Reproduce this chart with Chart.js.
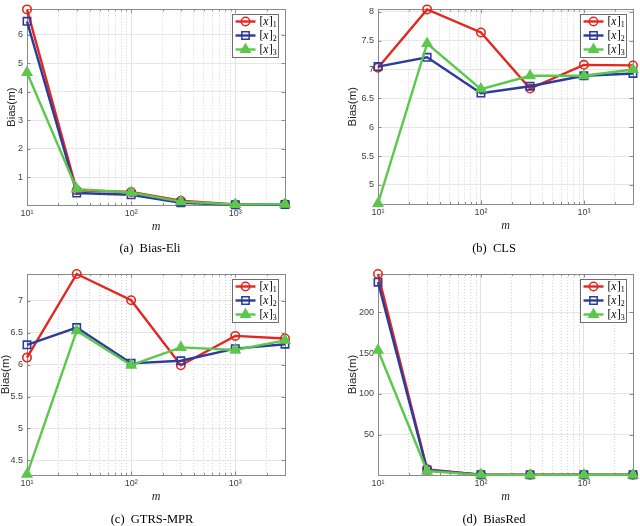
<!DOCTYPE html>
<html>
<head>
<meta charset="utf-8">
<script src="https://cdn.jsdelivr.net/npm/chart.js@4.4.0/dist/chart.umd.min.js"></script>
<style>
  body { margin: 0; background: #fff; width: 640px; height: 526px; position: relative; overflow: hidden; }
  .panel { position: absolute; width: 320px; height: 263px; }
  .cap { position: absolute; font-family: "Liberation Serif", serif; font-size: 12.5px; color: #000;
         white-space: nowrap; transform: translate(-50%, -50%); }
</style>
</head>
<body>
<div class="panel" style="left:0;top:0"><canvas id="chartA" width="320" height="263"></canvas></div>
<div class="panel" style="left:320px;top:0"><canvas id="chartB" width="320" height="263"></canvas></div>
<div class="panel" style="left:0;top:263px"><canvas id="chartC" width="320" height="263"></canvas></div>
<div class="panel" style="left:320px;top:263px"><canvas id="chartD" width="320" height="263"></canvas></div>

<div class="cap" style="left:150px;top:248px">(a)&nbsp; Bias-Eli</div>
<div class="cap" style="left:494px;top:248px">(b)&nbsp; CLS</div>
<div class="cap" style="left:152px;top:519px">(c)&nbsp; GTRS-MPR</div>
<div class="cap" style="left:494px;top:519px">(d)&nbsp; BiasRed</div>

<script>
// sample sizes m (x axis)
const mValues = [10, 30, 100, 300, 1000, 3000];
const xTickValues = [10, 20, 30, 40, 50, 60, 70, 80, 90,
                     100, 200, 300, 400, 500, 600, 700, 800, 900,
                     1000, 2000, 3000];
const seriesNames = ['1', '2', '3'];

// (a) Bias-Eli
const eliX1 = [6.9, 0.54, 0.48, 0.17, 0.04, 0.05];
const eliX2 = [6.48, 0.44, 0.38, 0.10, 0.03, 0.04];
const eliX3 = [4.68, 0.58, 0.46, 0.14, 0.04, 0.05];
const eliTicks = [1, 2, 3, 4, 5, 6];
const eliRange = [0.02, 6.9];

// (b) CLS
const clsX1 = [7.03, 8.04, 7.64, 6.67, 7.08, 7.07];
const clsX2 = [7.05, 7.21, 6.59, 6.71, 6.89, 6.93];
const clsX3 = [4.68, 7.45, 6.66, 6.89, 6.89, 7.0];
const clsTicks = [5, 5.5, 6, 6.5, 7, 7.5, 8];
const clsRange = [4.67, 8.04];

// (c) GTRS-MPR
const gtrsX1 = [6.11, 7.42, 7.01, 5.99, 6.45, 6.41];
const gtrsX2 = [6.31, 6.58, 6.02, 6.06, 6.25, 6.32];
const gtrsX3 = [4.28, 6.53, 5.99, 6.27, 6.23, 6.38];
const gtrsTicks = [4.5, 5, 5.5, 6, 6.5, 7];
const gtrsRange = [4.27, 7.42];

// (d) BiasRed
const brX1 = [247, 7.6, 1.2, 1.0, 1.0, 1.0];
const brX2 = [237, 6.8, 1.0, 0.9, 0.9, 0.9];
const brX3 = [153.5, 5.6, 0.9, 0.8, 0.8, 0.8];
const brTicks = [50, 100, 150, 200];
const brRange = [0.7, 247];

const RED = '#e3271f';
const BLUE = '#2b3c9c';
const GREEN = '#5cc84b';
const styles = [
  { color: RED, point: 'circle', radius: 4.2, fill: 'rgba(255,255,255,0)', order: 3 },
  { color: BLUE, point: 'rect', radius: 5.2, fill: 'rgba(255,255,255,0)', order: 2 },
  { color: GREEN, point: 'triangle', radius: 5.4, fill: GREEN, order: 1 },
];

const sup = { 1: '\u00b9', 2: '\u00b2', 3: '\u00b3' };
const isMajor = (v) => Math.abs(Math.log10(v) - Math.round(Math.log10(v))) < 1e-9;

// axes box + inward tick marks, like the matlab frame
const framePlugin = {
  id: 'frame',
  beforeDatasetsDraw(chart) {
    const { ctx, chartArea: a, scales: { x, y } } = chart;
    ctx.save();
    ctx.strokeStyle = '#8a8a8a';
    ctx.lineWidth = 1;
    ctx.beginPath();
    x.ticks.forEach((t) => {
      const px = Math.round(x.getPixelForValue(t.value)) + 0.5;
      const len = isMajor(t.value) ? 3.5 : 2;
      ctx.moveTo(px, a.bottom); ctx.lineTo(px, a.bottom - len);
      ctx.moveTo(px, a.top); ctx.lineTo(px, a.top + len);
    });
    y.ticks.forEach((t) => {
      const py = Math.round(y.getPixelForValue(t.value)) + 0.5;
      ctx.moveTo(a.left, py); ctx.lineTo(a.left + 3.5, py);
      ctx.moveTo(a.right, py); ctx.lineTo(a.right - 3.5, py);
    });
    ctx.stroke();
    ctx.strokeRect(Math.round(a.left) + 0.5, Math.round(a.top) + 0.5,
                   Math.round(a.right - a.left), Math.round(a.bottom - a.top));
    ctx.restore();
  }
};

function drawMarker(ctx, style, cx, cy) {
  ctx.beginPath();
  const r = style.radius;
  if (style.point === 'circle') {
    ctx.arc(cx, cy, r, 0, Math.PI * 2);
  } else if (style.point === 'rect') {
    const h = r * Math.SQRT1_2;
    ctx.rect(cx - h, cy - h, 2 * h, 2 * h);
  } else {
    for (let k = 0; k < 3; k++) {
      const ang = k * 2 * Math.PI / 3;
      const px = cx + Math.sin(ang) * r, py = cy - Math.cos(ang) * r;
      if (k === 0) ctx.moveTo(px, py); else ctx.lineTo(px, py);
    }
    ctx.closePath();
  }
  ctx.fillStyle = style.fill;
  ctx.fill();
  ctx.stroke();
}

// boxed legend in the upper right corner of the plot area
const boxLegendPlugin = {
  id: 'boxLegend',
  afterDraw(chart) {
    const { ctx, chartArea: a } = chart;
    const w = 46, h = 43;
    const left = Math.round(a.right - 7 - w) + 0.5;
    const top = Math.round(a.top + 5) + 0.5;
    ctx.save();
    ctx.fillStyle = '#fff';
    ctx.fillRect(left, top, w, h);
    ctx.strokeStyle = '#6e6e6e';
    ctx.lineWidth = 1;
    ctx.strokeRect(left, top, w, h);
    chart.data.datasets.forEach((ds, i) => {
      const st = styles[i];
      const cy = top + 7 + i * 14;
      ctx.strokeStyle = st.color;
      ctx.lineWidth = 2.4;
      ctx.beginPath();
      ctx.moveTo(left + 3, cy); ctx.lineTo(left + 23, cy);
      ctx.stroke();
      ctx.lineWidth = 1.5;
      drawMarker(ctx, st, left + 13, cy);
      // [x]_i
      ctx.fillStyle = '#000';
      ctx.textBaseline = 'middle';
      let tx = left + 27;
      ctx.font = '11.5px "Liberation Serif", serif';
      ctx.fillText('[', tx, cy); tx += ctx.measureText('[').width;
      ctx.font = 'italic 11.5px "Liberation Serif", serif';
      ctx.fillText('x', tx, cy); tx += ctx.measureText('x').width + 0.5;
      ctx.font = '11.5px "Liberation Serif", serif';
      ctx.fillText(']', tx, cy); tx += ctx.measureText(']').width;
      ctx.font = '8px "Liberation Serif", serif';
      ctx.fillText(seriesNames[i], tx, cy + 3);
    });
    ctx.restore();
  }
};

function makePanel(id, series, range, yTicks, box) {
  const datasets = series.map((vals, i) => ({
    label: '[x]' + seriesNames[i],
    data: mValues.map((m, j) => ({ x: m, y: vals[j] })),
    borderColor: styles[i].color,
    backgroundColor: styles[i].color,
    borderWidth: 2.4,
    pointStyle: styles[i].point,
    pointRadius: styles[i].radius,
    pointBorderWidth: 1.6,
    pointBorderColor: styles[i].color,
    pointBackgroundColor: styles[i].fill,
    tension: 0,
    clip: false,
    order: styles[i].order,
  }));

  return new Chart(document.getElementById(id), {
    type: 'line',
    data: { datasets },
    options: {
      responsive: false,
      animation: false,
      layout: { padding: { left: 0, top: box.top, right: box.right, bottom: box.bottom } },
      plugins: { legend: { display: false }, tooltip: { enabled: false } },
      scales: {
        x: {
          type: 'logarithmic',
          min: 10,
          max: 3000,
          afterBuildTicks: (s) => { s.ticks = xTickValues.map((v) => ({ value: v })); },
          afterFit: (s) => { s.height = 30; },
          ticks: {
            autoSkip: false,
            maxRotation: 0,
            padding: 3,
            color: '#404040',
            font: { family: 'Liberation Sans', size: 9 },
            callback: (v) => isMajor(v) ? '10' + sup[Math.round(Math.log10(v))] : '',
          },
          grid: {
            drawTicks: false,
            lineWidth: 1,
            color: (c) => (c.tick && isMajor(c.tick.value)) ? '#e2e2e2' : '#d2d2d2',
          },
          border: {
            display: false,
            dash: (c) => (c.tick && !isMajor(c.tick.value)) ? [1, 2] : [],
          },
          title: {
            display: true,
            text: 'm',
            color: '#262626',
            font: { family: 'Liberation Serif', style: 'italic', size: 12, lineHeight: 1 },
            padding: { top: 0, bottom: 2 },
          },
        },
        y: {
          type: 'linear',
          min: range[0],
          max: range[1],
          afterBuildTicks: (s) => { s.ticks = yTicks.map((v) => ({ value: v })); },
          afterFit: (s) => { s.width = box.left; },
          ticks: {
            padding: 4,
            color: '#404040',
            font: { family: 'Liberation Sans', size: 9 },
            callback: (v) => String(v),
          },
          grid: { drawTicks: false, color: '#e6e6e6', lineWidth: 1 },
          border: { display: false },
          title: {
            display: true,
            text: 'Bias(m)',
            color: '#262626',
            font: { family: 'Liberation Sans', size: 11.5, lineHeight: 1 },
            padding: { top: box.titlePad, bottom: 0 },
          },
        },
      },
    },
    plugins: [framePlugin, boxLegendPlugin],
  });
}

makePanel('chartA', [eliX1, eliX2, eliX3], eliRange, eliTicks,
          { left: 27, top: 5, right: 35, bottom: 28, titlePad: 6 });
makePanel('chartB', [clsX1, clsX2, clsX3], clsRange, clsTicks,
          { left: 58, top: 5, right: 6, bottom: 29, titlePad: 27 });
makePanel('chartC', [gtrsX1, gtrsX2, gtrsX3], gtrsRange, gtrsTicks,
          { left: 27, top: 11, right: 35, bottom: 21, titlePad: 0 });
makePanel('chartD', [brX1, brX2, brX3], brRange, brTicks,
          { left: 58, top: 11, right: 6, bottom: 21, titlePad: 27 });
</script>
</body>
</html>
